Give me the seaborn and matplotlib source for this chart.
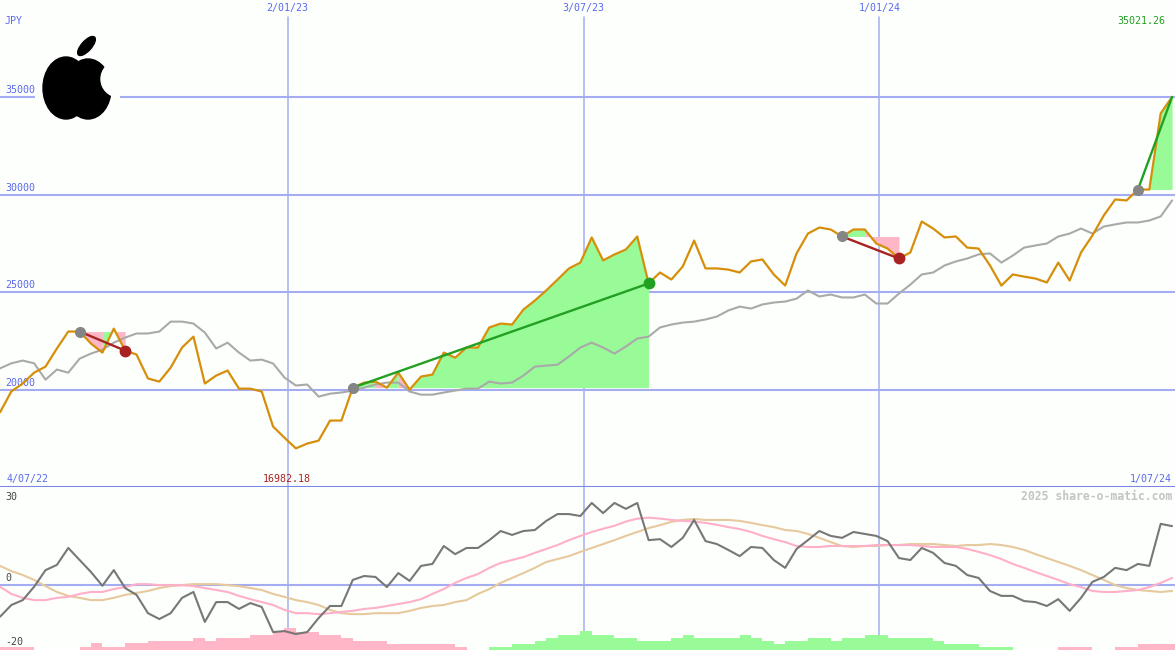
import numpy as np
import pandas as pd
import matplotlib
matplotlib.use("Agg")
import matplotlib.pyplot as plt
from matplotlib.patches import Ellipse, Circle
import seaborn as sns

# ---- weekly data (JPY) ----
close = [18830, 19910, 20310, 20870, 21180, 22110, 22980, 22980, 22360, 21900,
         23130, 22000, 21800, 20570, 20410, 21130, 22160, 22720, 20310, 20720,
         20980, 20050, 20050, 19900, 18100, 17530, 16982.18, 17230, 17380, 18410,
         18410, 20100, 20360, 20410, 20100, 20870, 20000, 20670, 20770, 21900,
         21640, 22160, 22160, 23190, 23390, 23340, 24110, 24570, 25090, 25650,
         26220, 26520, 27810, 26630, 26940, 27190, 27860, 25450, 26010, 25650,
         26320, 27650, 26220, 26220, 26160, 26010, 26580, 26680, 25910, 25340,
         26990, 28010, 28320, 28220, 27860, 28220, 28220, 27500, 27240, 26730,
         27040, 28630, 28270, 27810, 27860, 27290, 27240, 26370, 25340, 25910,
         25800, 25700, 25500, 26520, 25600, 27040, 27910, 28940, 29760, 29710,
         30270, 30270, 34180, 35021.26]

moving_avg = [21090, 21350, 21490, 21350, 20510, 21030, 20870, 21590, 21850, 22050,
              22410, 22670, 22880, 22880, 22980, 23490, 23490, 23390, 22930, 22110,
              22410, 21900, 21490, 21540, 21340, 20620, 20210, 20260, 19640, 19790,
              19850, 19950, 20100, 20260, 20360, 20360, 19900, 19740, 19740, 19850,
              19950, 20050, 20050, 20410, 20310, 20360, 20720, 21180, 21230, 21280,
              21700, 22160, 22410, 22160, 21850, 22210, 22620, 22720, 23190, 23340,
              23440, 23490, 23600, 23750, 24060, 24260, 24160, 24370, 24470, 24520,
              24670, 25090, 24780, 24880, 24730, 24730, 24880, 24420, 24420, 24930,
              25390, 25910, 26010, 26370, 26580, 26730, 26940, 26990, 26520, 26880,
              27290, 27400, 27500, 27860, 28010, 28270, 28010, 28370, 28480, 28580,
              28580, 28680, 28890, 29710]

oscillator = [-9.8, -6.2, -4.7, -0.6, 4.5, 6.1, 11.3, 7.6, 3.9, -0.3,
              4.5, -1.0, -3.1, -8.7, -10.5, -8.7, -4.0, -2.2, -11.4, -5.3,
              -5.3, -7.4, -5.6, -6.8, -14.5, -14.2, -15.1, -14.5, -10.2, -6.5,
              -6.5, 1.5, 2.7, 2.4, -0.7, 3.6, 1.2, 5.8, 6.4, 11.9,
              9.4, 11.3, 11.3, 13.7, 16.5, 15.3, 16.5, 16.8, 19.6, 21.7,
              21.7, 21.1, 25.1, 22.0, 25.1, 23.3, 25.1, 13.7, 14.0, 11.6,
              14.4, 19.9, 13.4, 12.5, 10.7, 8.8, 11.6, 11.3, 7.6, 5.2,
              11.0, 13.7, 16.5, 15.0, 14.4, 16.2, 15.6, 15.0, 13.4, 8.2,
              7.6, 11.3, 9.8, 6.7, 5.8, 3.0, 2.1, -1.9, -3.4, -3.4,
              -5.0, -5.3, -6.5, -4.4, -8.0, -4.0, 0.9, 2.4, 5.2, 4.5,
              6.4, 5.8, 18.7, 18.0]

signal = [-0.6, -2.8, -4.0, -4.7, -4.7, -4.0, -3.7, -2.8, -2.2, -2.2,
          -1.3, -0.7, 0.2, 0.2, -0.1, -0.1, -0.1, -0.4, -1.0, -1.6,
          -2.2, -3.4, -4.4, -5.3, -6.2, -7.7, -8.7, -8.7, -9.0, -8.7,
          -8.3, -8.0, -7.4, -7.1, -6.5, -5.9, -5.3, -4.4, -2.8, -1.3,
          0.6, 2.1, 3.3, 5.2, 6.7, 7.6, 8.5, 9.8, 11.0, 12.2,
          13.7, 15.0, 16.2, 17.2, 18.1, 19.4, 20.3, 20.6, 20.3, 19.9,
          19.6, 19.4, 19.0, 18.4, 17.7, 17.1, 16.2, 15.0, 14.0, 13.1,
          11.9, 11.6, 11.6, 11.9, 11.9, 11.9, 11.9, 12.2, 12.2, 12.2,
          12.2, 11.9, 11.6, 11.6, 11.6, 11.0, 10.1, 9.1, 7.9, 6.4,
          5.2, 3.9, 2.7, 1.5, 0.2, -0.7, -1.9, -2.2, -2.2, -1.9,
          -1.6, -0.7, 0.6, 2.1]

slow = [5.8, 4.2, 3.0, 1.5, -0.4, -2.2, -3.4, -4.0, -4.7, -4.7,
        -4.0, -3.1, -2.5, -1.9, -1.0, -0.4, -0.1, 0.2, 0.2, 0.2,
        -0.1, -0.4, -1.0, -1.6, -2.8, -3.7, -4.7, -5.3, -6.2, -7.7,
        -8.7, -9.0, -9.0, -8.7, -8.7, -8.7, -8.0, -7.1, -6.5, -6.2,
        -5.3, -4.7, -2.8, -1.3, 0.6, 2.1, 3.6, 5.2, 7.0, 7.9,
        8.8, 10.1, 11.3, 12.5, 13.7, 15.0, 16.2, 17.4, 18.3, 19.3,
        19.9, 20.2, 19.9, 19.9, 19.9, 19.6, 19.0, 18.3, 17.7, 16.8,
        16.5, 15.6, 14.4, 13.1, 11.9, 11.6, 11.9, 11.9, 12.2, 12.2,
        12.5, 12.5, 12.5, 12.2, 11.9, 12.2, 12.2, 12.5, 12.2, 11.6,
        10.7, 9.4, 8.2, 7.0, 5.8, 4.5, 3.0, 1.5, -0.1, -1.0,
        -1.6, -1.9, -2.2, -1.9]

histogram = [-1.0, -1.0, -1.0, 0, 0, 0, 0, -1.0, -2.1, -1.0,
             -1.0, -2.0, -2.0, -2.9, -2.9, -2.9, -2.9, -3.8, -2.9, -3.8,
             -3.8, -3.8, -4.6, -4.6, -5.6, -6.7, -5.6, -5.6, -4.6, -4.6,
             -3.8, -2.9, -2.9, -2.9, -1.9, -1.9, -1.9, -1.9, -1.9, -1.9,
             -0.8, 0, 0, 0.8, 0.8, 1.9, 1.9, 2.8, 3.6, 4.6,
             4.6, 5.8, 4.6, 4.6, 3.6, 3.6, 2.8, 2.8, 2.8, 3.6,
             4.6, 3.6, 3.6, 3.6, 3.6, 4.6, 3.6, 2.8, 1.9, 2.8,
             2.8, 3.6, 3.6, 2.8, 3.6, 3.6, 4.6, 4.6, 3.6, 3.6,
             3.6, 3.6, 2.8, 1.9, 1.9, 1.9, 0.9, 0.9, 0.9, 0,
             0, 0, 0, -0.9, -0.9, -0.9, 0, 0, -0.9, -0.9,
             -1.9, -1.9, -1.9, -1.9]

# trades: entry / exit week indices (last one still open)
entry_idx = [7, 31, 74, 100]
exit_idx = [11, 57, 79, 103]
open_trade = [False, False, False, True]

price_ticks = [20000, 25000, 30000, 35000]
date_ticks = ["2023-01-02", "2023-07-03", "2024-01-01"]
date_labels = ["2/01/23", "3/07/23", "1/01/24"]
range_start, range_end = "4/07/22", "1/07/24"
osc_ticks = [30, 0, -20]
currency = "JPY"

dates = pd.date_range("2022-07-09", periods=len(close), freq="7D")

# ---- style ----
sns.set_style("white")
plt.rcParams["font.family"] = ["DejaVu Sans Mono"]

BG = "#fdfffd"
GRID = "#a4adf2"
SEP = "#7a86e6"
LABEL = "#5a69ee"
ORANGE = "#d68f0a"
AVG = "#a9a9a9"
FILL_G = "#98fb98"
FILL_R = "#ffb6c6"
LINE_G = "#22a022"
LINE_R = "#a82222"
FS = 7.2

W, H = 1175, 650
fig = plt.figure(figsize=(W / 100, H / 100), dpi=100, facecolor=BG)
top_h = 487
ax = fig.add_axes([0, (H - top_h) / H, 1, top_h / H])
ax2 = fig.add_axes([0, 0, 1, (H - top_h) / H])

x_lo = dates[0]
x_hi = dates[-1] + pd.Timedelta(days=1.8)

for a in (ax, ax2):
    a.set_facecolor(BG)
    for s in a.spines.values():
        s.set_visible(False)
    a.set_xticks([])
    a.set_yticks([])
    a.set_xlim(x_lo, x_hi)

ax.set_ylim(15000, 40000)
ax2.set_ylim(-20, 30)

# ---- upper panel grid ----
for v in price_ticks:
    ax.axhline(v, color=GRID, lw=1.5, zorder=1)
    ax.annotate(f"{v}", xy=(0, v), xycoords=("axes fraction", "data"),
                xytext=(5, 2), textcoords="offset pixels", ha="left", va="bottom",
                color=LABEL, fontsize=FS)

for d, lab in zip(date_ticks, date_labels):
    t = pd.Timestamp(d)
    ax.axvline(t, ymin=0, ymax=1 - 17 / top_h, color=GRID, lw=1.1, zorder=1)
    ax.annotate(lab, xy=(t, 1), xycoords=("data", "axes fraction"),
                xytext=(0, -3), textcoords="offset pixels", ha="center", va="top",
                color=LABEL, fontsize=FS)
    ax2.axvline(t, color=GRID, lw=1.1, zorder=1)

# ---- trades: shade gain/loss against the entry level ----
for e, x, is_open in zip(entry_idx, exit_idx, open_trade):
    level = close[e]
    seg_win = [close[i + 1] > level for i in range(e, x)]
    start = e
    for j in range(1, len(seg_win) + 1):
        if j == len(seg_win) or seg_win[j] != seg_win[j - 1]:
            stop = e + j
            ax.fill_between(dates[start:stop + 1], level, close[start:stop + 1],
                            color=FILL_G if seg_win[j - 1] else FILL_R, lw=0, zorder=2)
            start = stop
    win = close[x] > level
    ax.plot([dates[e], dates[x]], [level, close[x]], color=LINE_G if win else LINE_R,
            lw=1.7, zorder=5, solid_capstyle="round")

# ---- price lines ----
sns.lineplot(x=dates, y=moving_avg, ax=ax, color=AVG, lw=1.5, zorder=3)
sns.lineplot(x=dates, y=close, ax=ax, color=ORANGE, lw=1.6, zorder=4)
ax.set_xlabel("")
ax.set_ylabel("")

for e, x, is_open in zip(entry_idx, exit_idx, open_trade):
    level = close[e]
    ax.plot(dates[e], level, "o", color="#858585", ms=7, zorder=6)
    if not is_open:
        win = close[x] > level
        ax.plot(dates[x], close[x], "o", color=LINE_G if win else LINE_R, ms=7.5, zorder=6)

# ---- extremes and range labels ----
i_max = int(np.argmax(close))
i_min = int(np.argmin(close))
ax.annotate(f"{close[i_max]:.2f}", xy=(1, 1), xycoords="axes fraction",
            xytext=(-10, -21), textcoords="offset pixels", ha="right", va="center",
            color=LINE_G, fontsize=FS)
ax.annotate(f"{close[i_min]:.2f}", xy=(dates[i_min], 0), xycoords=("data", "axes fraction"),
            xytext=(-9, 8), textcoords="offset pixels", ha="center", va="center",
            color=LINE_R, fontsize=FS)
ax.annotate(range_start, xy=(0, 0), xycoords="axes fraction", xytext=(7, 8),
            textcoords="offset pixels", ha="left", va="center", color=LABEL, fontsize=FS)
ax.annotate(range_end, xy=(1, 0), xycoords="axes fraction", xytext=(-3, 8),
            textcoords="offset pixels", ha="right", va="center", color=LABEL, fontsize=FS)
ax.annotate(currency, xy=(0, 1), xycoords="axes fraction", xytext=(5, -21),
            textcoords="offset pixels", ha="left", va="center", color=LABEL, fontsize=FS)

# separator between panels
ax.axhline(15000, color=SEP, lw=2.2, zorder=7, clip_on=False)

# ---- lower panel ----
ax2.axhline(0, color=GRID, lw=1.5, zorder=1)
hist = np.array(histogram)
ax2.bar(dates, np.abs(hist), width=7, bottom=-20, align="edge",
        color=[FILL_G if h > 0 else FILL_R for h in hist], lw=0, zorder=2)
sns.lineplot(x=dates, y=slow, ax=ax2, color="#e6c99c", lw=1.5, zorder=3)
sns.lineplot(x=dates, y=signal, ax=ax2, color="#ffb0c8", lw=1.5, zorder=4)
sns.lineplot(x=dates, y=oscillator, ax=ax2, color="#777777", lw=1.5, zorder=5)
ax2.set_xlabel("")
ax2.set_ylabel("")

ax2.annotate(str(osc_ticks[0]), xy=(0, 1), xycoords="axes fraction", xytext=(5, -10),
             textcoords="offset pixels", ha="left", va="center", color="#444444", fontsize=FS)
ax2.annotate(str(osc_ticks[1]), xy=(0, 0), xycoords=("axes fraction", "data"), xytext=(5, 7),
             textcoords="offset pixels", ha="left", va="center", color="#444444", fontsize=FS)
ax2.annotate(str(osc_ticks[2]), xy=(0, 0), xycoords="axes fraction", xytext=(5, 8),
             textcoords="offset pixels", ha="left", va="center", color="#444444", fontsize=FS)
ax2.annotate("2025 share-o-matic.com", xy=(1, 1), xycoords="axes fraction",
             xytext=(-3, -9), textcoords="offset pixels", ha="right", va="center",
             color="#c4c4c4", fontsize=8.3, fontweight="bold")

# ---- logo ----
lax = fig.add_axes([35 / W, 1 - 125 / H, 85 / W, 95 / H])
lax.set_facecolor(BG)
lax.set_xlim(35, 120)
lax.set_ylim(-125, -30)
lax.axis("off")
lax.add_patch(plt.Rectangle((35, -125), 85, 95, color=BG, zorder=0))
lax.add_patch(Ellipse((66, -88), 46, 62, color="black", zorder=1))
lax.add_patch(Ellipse((88, -89), 46, 60, color="black", zorder=1))
lax.add_patch(Circle((119, -79), 18, color=BG, zorder=2))
lax.add_patch(Ellipse((86.5, -46), 24, 10, angle=48, color="black", zorder=1))

fig.savefig("out.png", dpi=100, facecolor=BG)
